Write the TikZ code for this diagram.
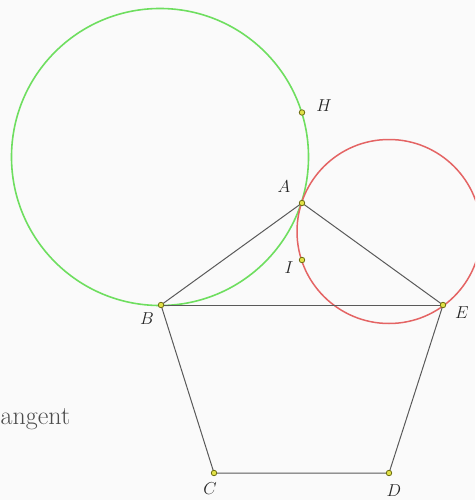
\documentclass[tikz,border=0pt]{standalone}
\usepackage{fontspec}
\begin{document}
\begin{tikzpicture}[x=1pt,y=-1pt,
  edge/.style={draw=black!65, line width=1pt},
  pt/.style={circle, draw={rgb,255:red,110;green,110;blue,20}, fill={rgb,255:red,225;green,225;blue,70}, line width=0.8pt, inner sep=0pt, minimum size=5.5pt},
  lbl/.style={font=\fontsize{17}{19}\selectfont, text=black!85},
  greenc/.style={draw={rgb,255:red,110;green,222;blue,95}, line width=1.6pt},
  redc/.style={draw={rgb,255:red,228;green,100;blue,100}, line width=1.5pt}]
\fill[black!2] (0,0) rectangle (475,500);
\useasboundingbox (0,0) rectangle (475,500);
\clip (0,0) rectangle (475,500);
% circles
\draw[greenc] (160,157) circle[radius=148.5];
\draw[redc] (389,231.5) circle[radius=92];
% points
\coordinate (A) at (302,203);
\coordinate (B) at (161,305);
\coordinate (C) at (214,473);
\coordinate (D) at (389,473);
\coordinate (E) at (443,305);
\coordinate (H) at (302,112.5);
\coordinate (I) at (302,260);
% pentagon
\draw[edge] (A) -- (B) -- (C) -- (D) -- (E) -- (A);
\draw[edge] (B) -- (E);
% point markers
\foreach \p in {A,B,C,D,E,H,I} \node[pt] (m\p) at (\p) {};
% labels
\node[lbl] (lA) at (284,187) {$A$};
\node[lbl] (lB) at (147,319) {$B$};
\node[lbl] (lC) at (210,489) {$C$};
\node[lbl] (lD) at (394,491) {$D$};
\node[lbl] (lE) at (462,313) {$E$};
\node[lbl] (lH) at (324,106) {$H$};
\node[lbl] (lI) at (289,268) {$I$};
\node[anchor=base west, inner sep=0pt, font=\fontsize{26}{29}\selectfont, text=black!70] (tang) at (0.5,424) {angent};
\end{tikzpicture}
\end{document}
